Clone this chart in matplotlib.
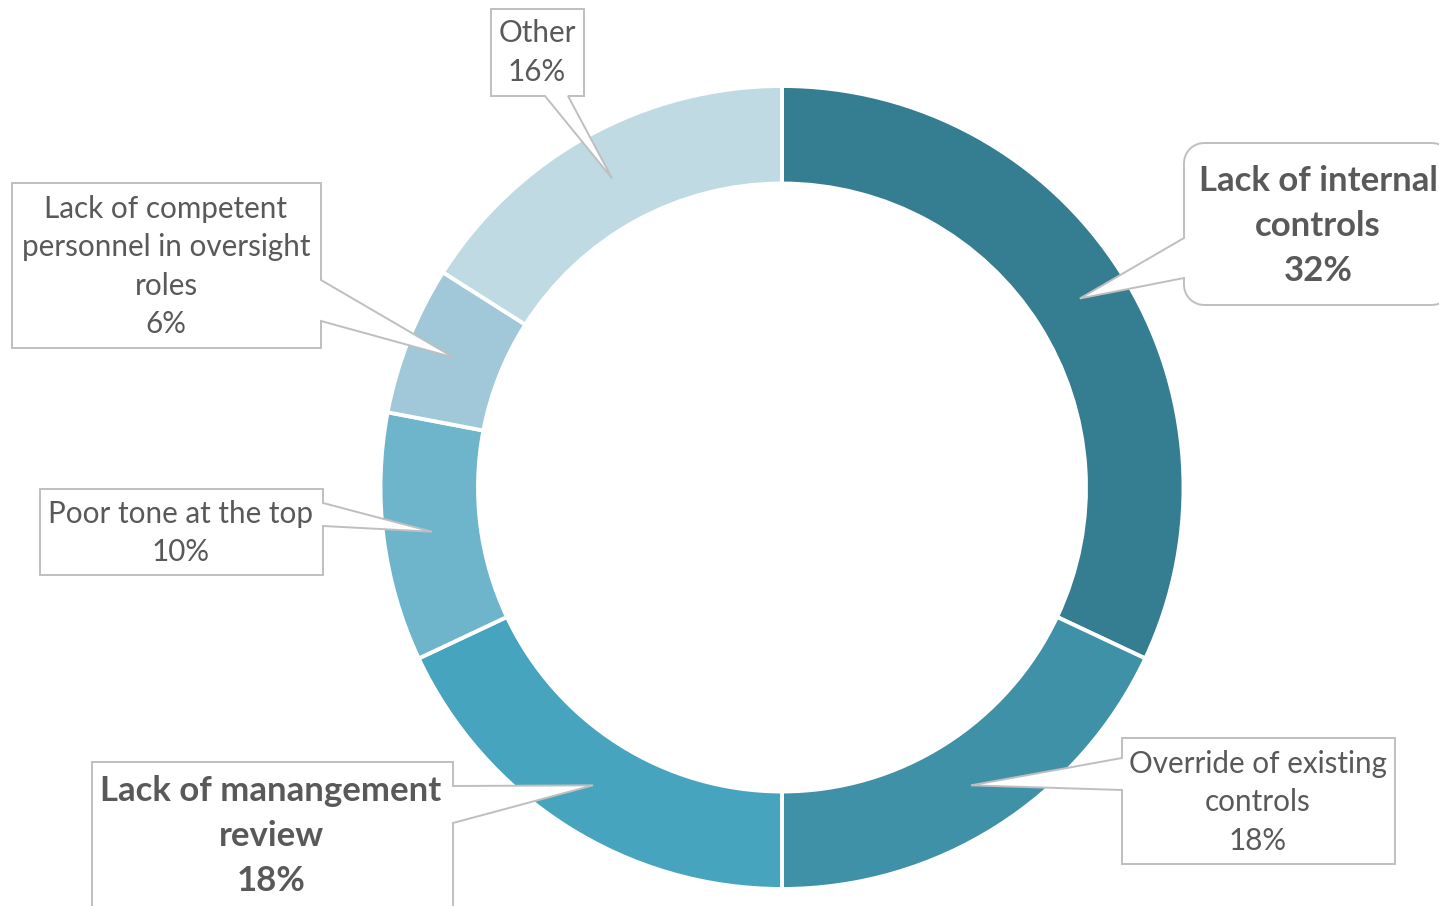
import numpy as np
import matplotlib.pyplot as plt
from matplotlib.patches import Wedge, Polygon

# data, clockwise from 12 o'clock
labels = ['Lack of internal\ncontrols', 'Override of existing\ncontrols',
          'Lack of manangement\nreview', 'Poor tone at the top',
          'Lack of competent\npersonnel in oversight\nroles', 'Other']
values = [32, 18, 18, 10, 6, 16]
colors = ['#357d90', '#3f91a8', '#47a4be', '#6eb5cc', '#a1c8d8', '#c0dae3']
bold = [True, False, True, False, False, False]

W, H = 1439, 906
cx, cy = 782, 487.5
r_out, r_in = 401.5, 304

txt_col = '#595959'
edge_col = '#bfbfbf'

# callout boxes (pixel layout): box, side the pointer leaves from, pointer base, corner radius
boxes = [
    dict(box=(1184, 143, 1452, 305), side='left', base=(238, 278), rad=20, tx=1318, ty=[181, 226, 271]),
    dict(box=(1122, 738, 1395, 864), side='left', base=(758, 790), rad=0, tx=1258, ty=[764, 802, 841]),
    dict(box=(92, 762, 453, 960), side='right', base=(786, 823), rad=0, tx=271, ty=[791, 836, 881]),
    dict(box=(40, 489, 323, 575), side='right', base=(503, 526), rad=0, tx=181, ty=[514, 552]),
    dict(box=(12, 183, 321, 348), side='right', base=(280, 321), rad=0, tx=166, ty=[209, 247, 286, 324]),
    dict(box=(491, 9, 584, 96), side='bottom', base=(545, 568), rad=0, tx=537, ty=[33, 72]),
]

plt.rcParams['font.family'] = ['Lato', 'DejaVu Sans']

fig = plt.figure(figsize=(W / 100, H / 100), dpi=100)
ax = fig.add_axes([0, 0, 1, 1])
ax.set_xlim(0, W)
ax.set_ylim(H, 0)
ax.axis('off')


def corner(px, py, rad, a0, a1):
    if rad == 0:
        return [(px, py)]
    t = np.radians(np.linspace(a0, a1, 8))
    return list(zip(px + rad * np.cos(t), py + rad * np.sin(t)))


def callout(b, tip):
    x0, y0, x1, y1 = b['box']
    r = b['rad']
    s0, s1 = b['base']
    # corners go clockwise on screen (y down): top-left, top-right, bottom-right, bottom-left
    tl = corner(x0 + r, y0 + r, r, 180, 270)
    tr = corner(x1 - r, y0 + r, r, 270, 360)
    br = corner(x1 - r, y1 - r, r, 0, 90)
    bl = corner(x0 + r, y1 - r, r, 90, 180)
    if b['side'] == 'left':
        pts = tl + tr + br + bl + [(x0, s1), tip, (x0, s0)]
    elif b['side'] == 'right':
        pts = tl + tr + [(x1, s0), tip, (x1, s1)] + br + bl
    else:
        pts = tl + tr + br + [(s1, y1), tip, (s0, y1)] + bl
    return pts


start = 0
for i, v in enumerate(values):
    a0 = start / sum(values) * 360
    a1 = (start + v) / sum(values) * 360
    # screen-clockwise angle a -> data angle a - 90 with inverted y
    ax.add_patch(Wedge((cx, cy), r_out, a0 - 90, a1 - 90, width=r_out - r_in,
                       facecolor=colors[i], edgecolor='white', linewidth=2.8))
    mid = np.radians((a0 + a1) / 2)
    rm = (r_out + r_in) / 2
    tip = (cx + rm * np.sin(mid), cy - rm * np.cos(mid))
    b = boxes[i]
    ax.add_patch(Polygon(callout(b, tip), closed=True, facecolor='white',
                         edgecolor=edge_col, linewidth=1.4, zorder=3, joinstyle='miter'))
    lines = labels[i].split('\n') + ['%d%%' % v]
    for line, ty in zip(lines, b['ty']):
        ax.text(b['tx'], ty, line, ha='center', va='center', color=txt_col,
                fontsize=25 if bold[i] else 21.3,
                fontweight='bold' if bold[i] else 'normal', zorder=4)
    start += v

fig.savefig('out.png', dpi=100)
